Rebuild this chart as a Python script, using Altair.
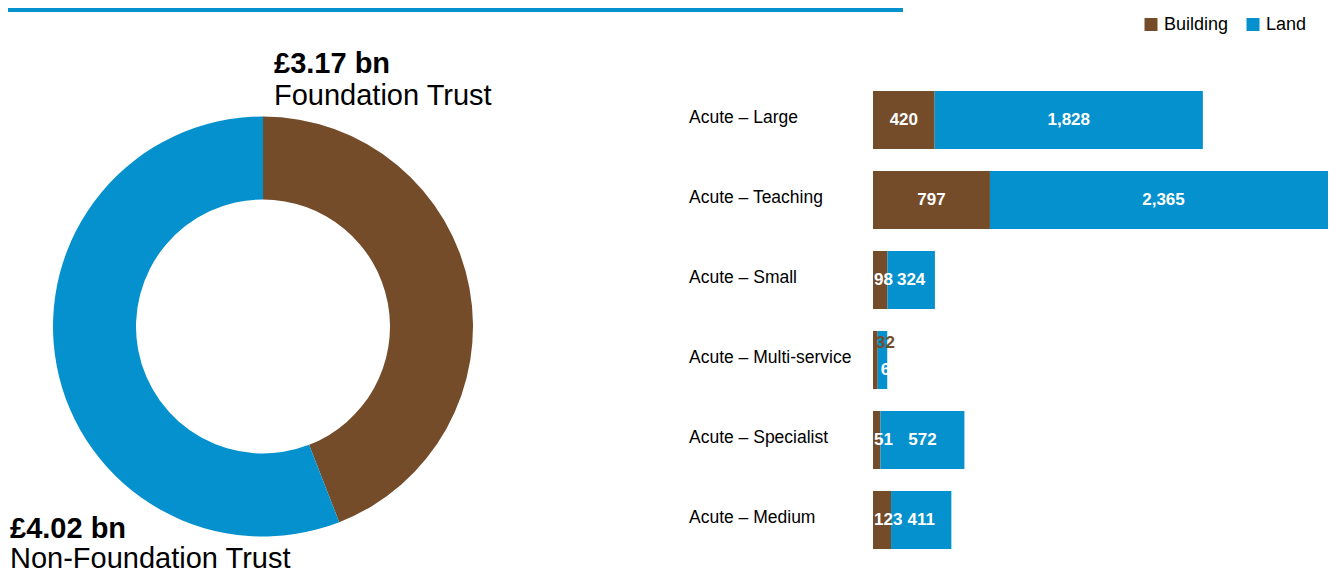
import altair as alt
import pandas as pd

# ---- data ----
categories = ["Acute – Large", "Acute – Teaching", "Acute – Small",
              "Acute – Multi-service", "Acute – Specialist", "Acute – Medium"]
building = [420, 797, 98, 32, 51, 123]
land = [1828, 2365, 324, 65, 572, 411]
series = ["Building", "Land"]

trust_types = ["Foundation Trust", "Non-Foundation Trust"]
trust_values = [3.17, 4.02]
trust_amounts = ["£3.17 bn", "£4.02 bn"]

BROWN = "#754C29"
BLUE = "#0491CD"
FONT = "Liberation Sans"

# ---- tables ----
rows = []
for c, b, l in zip(categories, building, land):
    rows.append({"category": c, "series": "Building", "value": b, "start": 0, "end": b,
                 "mid": b / 2, "total": b + l, "label": f"{b:,}"})
    rows.append({"category": c, "series": "Land", "value": l, "start": b, "end": b + l,
                 "mid": b + l / 2, "total": b + l, "label": f"{l:,}"})
bars_df = pd.DataFrame(rows)
is_multi = bars_df.category == "Acute – Multi-service"
narrow = (bars_df.value < 200) & ~is_multi
wide_lbl = bars_df[~is_multi & ~narrow]
narrow_lbl = bars_df[narrow]
multi_b = bars_df[is_multi & (bars_df.series == "Building")]
multi_l = bars_df[is_multi & (bars_df.series == "Land")]

donut_df = pd.DataFrame({"type": trust_types, "value": trust_values,
                         "color": [BROWN, BLUE], "idx": [0, 1]})
cat_df = pd.DataFrame({"category": categories})

xscale = alt.Scale(domain=[0, 3162], range=[865, 1329])
yscale = alt.Scale(domain=categories, range=[83, 541], paddingInner=0.275, paddingOuter=0)

# ---- layers ----
topline = alt.Chart(alt.Data(values=[{"a": 1}])).mark_rule(color=BLUE, strokeWidth=4).encode(
    x=alt.value(0), x2=alt.value(895), y=alt.value(2))

donut = alt.Chart(donut_df).mark_arc(innerRadius=127, outerRadius=210).encode(
    theta=alt.Theta("value:Q", stack=True),
    color=alt.Color("color:N", scale=None),
    order=alt.Order("idx:Q"),
    x=alt.value(255), y=alt.value(318.5))

def txt(text, x, y, bold):
    return alt.Chart(alt.Data(values=[{"t": text}])).mark_text(
        align="left", baseline="alphabetic", font=FONT, fontSize=29,
        fontWeight="bold" if bold else "normal", color="black").encode(
        text="t:N", x=alt.value(x), y=alt.value(y))

t1 = txt(trust_amounts[0], 266, 65, True)
t2 = txt(trust_types[0], 266, 97, False)
t3 = txt(trust_amounts[1], 2, 530, True)
t4 = txt(trust_types[1], 2, 560, False)

bars = alt.Chart(bars_df).mark_bar().encode(
    y=alt.Y("category:N", scale=yscale, axis=None),
    x=alt.X("start:Q", scale=xscale, axis=None),
    x2="end:Q",
    color=alt.Color("series:N", scale=alt.Scale(domain=series, range=[BROWN, BLUE]),
                    legend=alt.Legend(orient="none", legendX=1134, legendY=7.5,
                                      direction="horizontal", title=None,
                                      symbolType="square", symbolSize=169,
                                      symbolStrokeWidth=0, labelFont=FONT,
                                      labelFontSize=18, labelColor="black",
                                      labelOffset=4, columnPadding=15, padding=0)))

lbl_style = dict(font=FONT, fontSize=17, fontWeight="bold", baseline="middle")

vlabels = alt.Chart(wide_lbl).mark_text(color="white", **lbl_style).encode(
    y=alt.Y("category:N", scale=yscale, axis=None),
    x=alt.X("mid:Q", scale=xscale, axis=None),
    text="label:N")

nlabels = alt.Chart(narrow_lbl).mark_text(color="white", align="left", dx=1, **lbl_style).encode(
    y=alt.Y("category:N", scale=yscale, axis=None),
    x=alt.X("start:Q", scale=xscale, axis=None),
    text="label:N")

mb = alt.Chart(multi_b).mark_text(color=BROWN, align="left", dx=3, yOffset=-17, **lbl_style).encode(
    y=alt.Y("category:N", scale=yscale, axis=None),
    x=alt.X("start:Q", scale=xscale, axis=None),
    text="label:N")

ml = alt.Chart(multi_l).mark_text(color="white", align="left", dx=3, yOffset=10, **lbl_style).encode(
    y=alt.Y("category:N", scale=yscale, axis=None),
    x=alt.X("start:Q", scale=xscale, axis=None),
    text="label:N")

catlabels = alt.Chart(cat_df).mark_text(
    align="left", baseline="middle", font=FONT, fontSize=17.5, color="black", dy=-2).encode(
    y=alt.Y("category:N", scale=yscale, axis=None),
    x=alt.value(681),
    text="category:N")

chart = alt.layer(topline, donut, t1, t2, t3, t4, bars, vlabels, nlabels, mb, ml,
                  catlabels).resolve_scale(color="independent").properties(
    width=1320, height=566, padding=0, autosize=alt.AutoSizeParams(type="none")
).configure_view(stroke=None)

chart.save("out.html", embed_options={"renderer": "svg", "actions": False})
